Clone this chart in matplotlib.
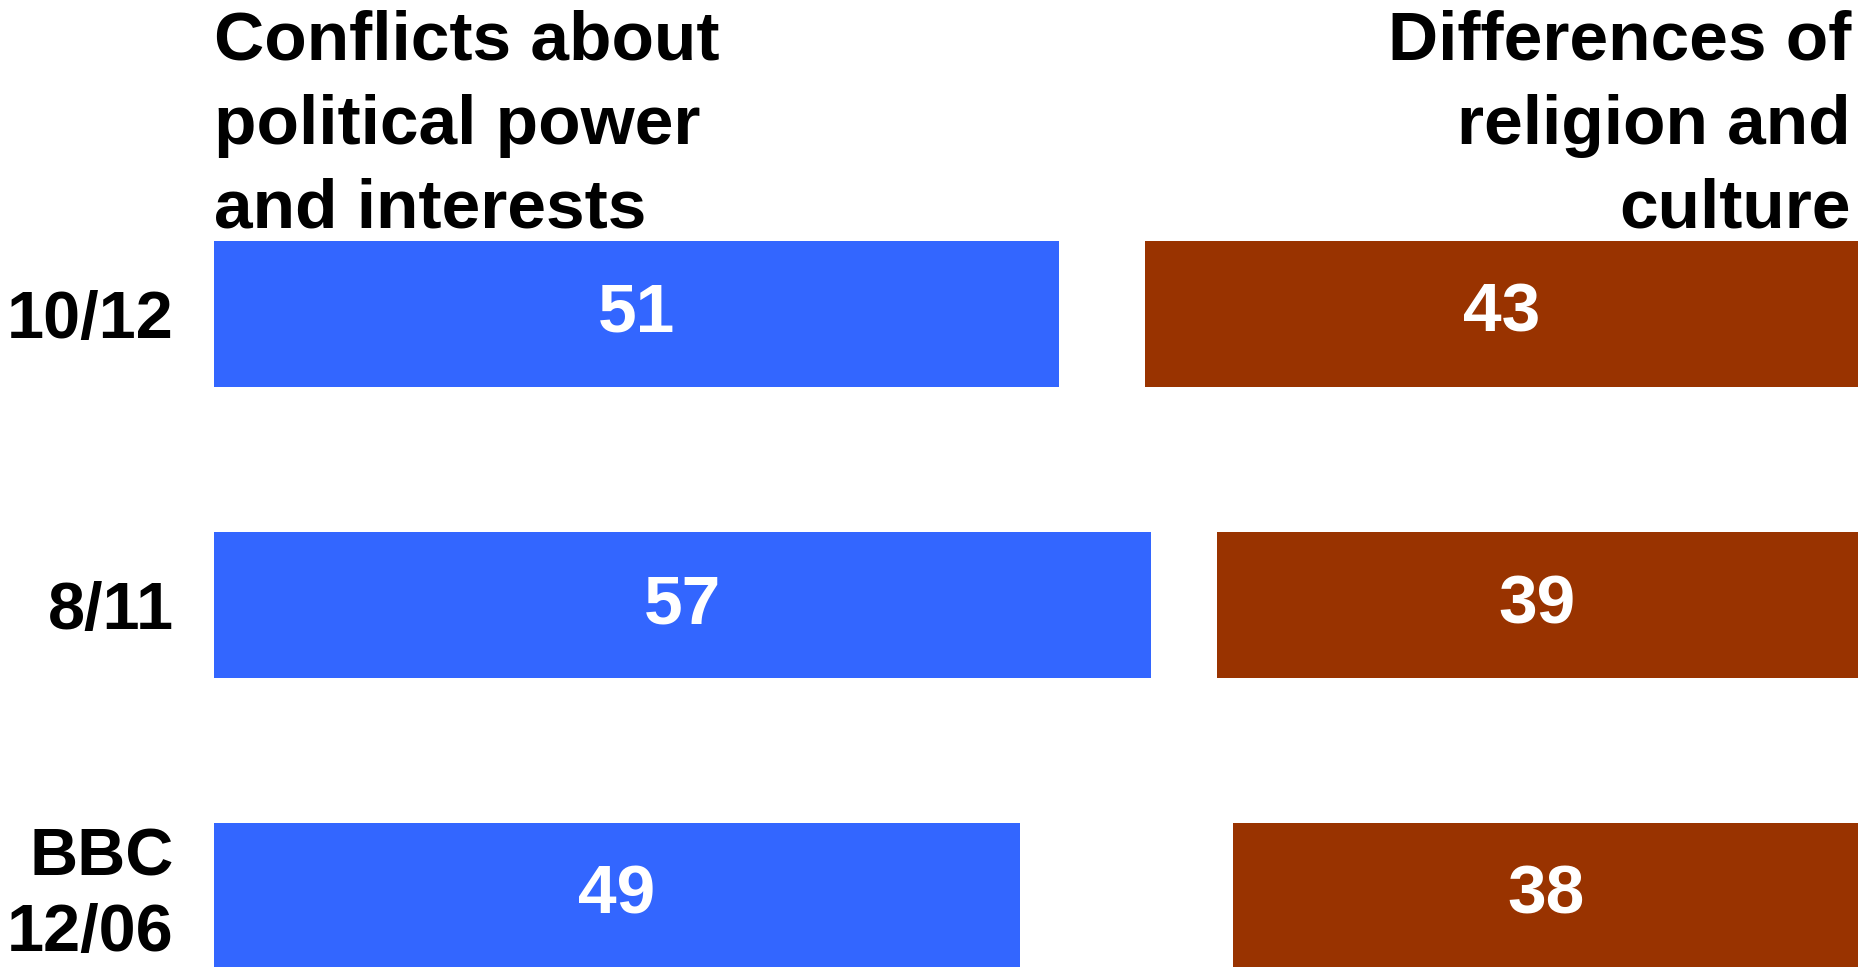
import matplotlib
matplotlib.use('Agg')
import matplotlib.pyplot as plt
import numpy as np

# data (bar lengths; labels are the rounded values)
periods = ['10/12', '8/11', 'BBC\n12/06']
power = [51.4, 57, 49]
religion = [43.4, 39, 38]

header_left = 'Conflicts about\npolitical power\nand interests'
header_right = 'Differences of\nreligion and\nculture'

blue = '#3366FF'
brown = '#993300'

plt.rcParams['font.family'] = ['Liberation Sans', 'DejaVu Sans']
plt.rcParams['font.weight'] = 'bold'

W, H = 1872, 967
fig = plt.figure(figsize=(W / 100, H / 100), dpi=100)

# axes spans the bar area; 0..100 scale, religion bars hang from the right end
left_px, right_px = 214, 1858
ax = fig.add_axes([left_px / W, 0, (right_px - left_px) / W, 1])

y = np.arange(len(periods))
ax.barh(y, power, height=0.5, left=0, color=blue)
ax.barh(y, religion, height=0.5, left=[100 - r for r in religion], color=brown)

for i in range(len(periods)):
    ax.text(power[i] / 2, y[i], '%d' % round(power[i]), color='white',
            fontsize=50, fontweight='bold', ha='center', va='center')
    ax.text(100 - religion[i] / 2, y[i], '%d' % round(religion[i]),
            color='white', fontsize=50, fontweight='bold',
            ha='center', va='center')

ax.set_xlim(0, 100)
# first bar centre sits 314 px from the top, 291 px between bars
ax.set_ylim((H - 314) / 291, -314 / 291)

ax.set_yticks(y)
ax.set_yticklabels(periods, fontsize=48, fontweight='bold')
for lab in ax.get_yticklabels():
    lab.set_linespacing(1.28)
    if '\n' in lab.get_text():
        lab.set_va('center')
ax.tick_params(axis='y', length=0, pad=29)
ax.set_xticks([])
for s in ax.spines.values():
    s.set_visible(False)
ax.patch.set_visible(False)

fig.text(left_px / W, 1 - 10 / H, header_left, fontsize=50, fontweight='bold',
         ha='left', va='top', linespacing=1.39)
fig.text(1851 / W, 1 - 10 / H, header_right, fontsize=50, fontweight='bold',
         ha='right', va='top', linespacing=1.39)

fig.savefig('out.png', dpi=100)
